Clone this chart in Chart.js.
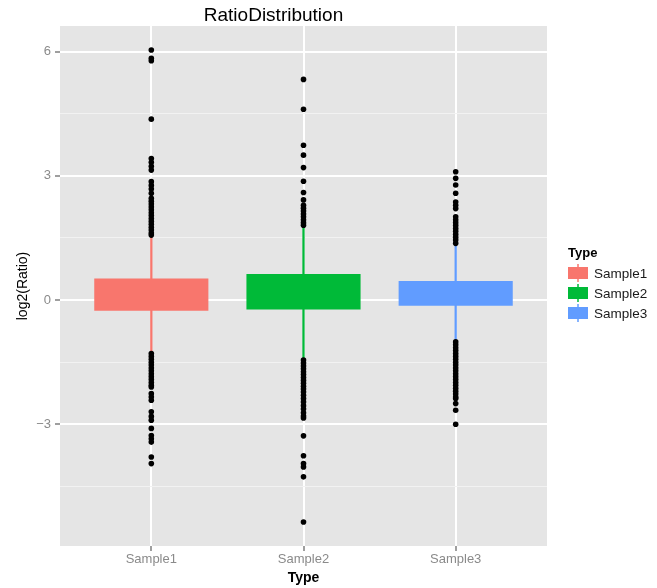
<!DOCTYPE html>
<html>
<head>
<meta charset="utf-8">
<title>RatioDistribution</title>
<script src="https://cdn.jsdelivr.net/npm/chart.js@4"></script>
<style>
  html, body { margin: 0; padding: 0; background: #fff; }
  #wrap { width: 657px; height: 588px; }
</style>
</head>
<body>
<div id="wrap"><canvas id="boxChart"></canvas></div>
<script>
// data
const types = ['Sample1', 'Sample2', 'Sample3'];
const colors = ['#F8766D', '#00BA38', '#619CFF'];

const q1 = [-0.26, -0.23, -0.14];
const q3 = [0.52, 0.63, 0.46];
const whiskerLow = [-1.25, -1.41, -0.97];
const whiskerHigh = [1.53, 1.77, 1.33];

const outliers1 = [6.04, 5.84, 5.78, 4.37, 3.42, 3.33, 3.23, 3.14, 2.86, 2.77, 2.68, 2.58,
  2.46, 2.39, 2.32, 2.25, 2.18, 2.11, 2.04, 1.97, 1.90, 1.83, 1.76, 1.69, 1.62, 1.57,
  -1.29, -1.36, -1.43, -1.50, -1.57, -1.64, -1.71, -1.78, -1.85, -1.92, -1.99, -2.06, -2.10,
  -2.26, -2.34, -2.42, -2.70, -2.81, -2.90, -3.10, -3.27, -3.35, -3.43, -3.79, -3.95];
const outliers2 = [5.33, 4.61, 3.74, 3.50, 3.20, 2.87, 2.60, 2.42, 2.29, 2.22, 2.15, 2.08,
  2.01, 1.94, 1.87, 1.81,
  -1.45, -1.52, -1.59, -1.66, -1.73, -1.80, -1.87, -1.94, -2.01, -2.08, -2.15, -2.22,
  -2.30, -2.38, -2.46, -2.55, -2.63, -2.72, -2.80, -2.85, -3.28, -3.76, -3.95, -4.03,
  -4.27, -5.36];
const outliers3 = [3.10, 2.94, 2.78, 2.58, 2.37, 2.29, 2.21, 2.01, 1.94, 1.87, 1.80, 1.73,
  1.66, 1.59, 1.52, 1.45, 1.37,
  -1.01, -1.08, -1.15, -1.22, -1.29, -1.36, -1.43, -1.50, -1.57, -1.64, -1.71, -1.78,
  -1.85, -1.92, -1.99, -2.06, -2.13, -2.20, -2.27, -2.34, -2.38, -2.50, -2.66, -3.00];

const yTicks = [-3, 0, 3, 6];
const yMinorTicks = [-4.5, -1.5, 1.5, 4.5];
const yRange = [-5.94, 6.62];

const FONT = '"Liberation Sans", Arial, sans-serif';

const outlierPoints = [];
[outliers1, outliers2, outliers3].forEach((list, i) => {
  list.forEach(v => outlierPoints.push({ x: i + 1, y: v }));
});

const isMajor = v => yTicks.includes(v);

// grey panel behind everything
const panelBg = {
  id: 'panelBg',
  beforeDraw(chart) {
    const { ctx, chartArea: a } = chart;
    ctx.save();
    ctx.fillStyle = '#E5E5E5';
    ctx.fillRect(a.left, a.top, a.width, a.height);
    ctx.restore();
  }
};

// ggplot style legend on the right
const typeLegend = {
  id: 'typeLegend',
  afterDraw(chart) {
    const { ctx, chartArea: a } = chart;
    const x0 = a.right + 21;
    const mid = (a.top + a.bottom) / 2;
    ctx.save();
    ctx.textBaseline = 'middle';
    ctx.fillStyle = '#000';
    ctx.font = 'bold 13px ' + FONT;
    ctx.fillText('Type', x0, mid - 33);
    ctx.font = '13.5px ' + FONT;
    types.forEach((t, i) => {
      const y = mid - 13 + i * 20;
      ctx.strokeStyle = colors[i];
      ctx.lineWidth = 1.5;
      ctx.beginPath();
      ctx.moveTo(x0 + 10, y - 9);
      ctx.lineTo(x0 + 10, y + 9);
      ctx.stroke();
      ctx.fillStyle = colors[i];
      ctx.fillRect(x0, y - 6, 20, 12);
      ctx.fillStyle = '#1A1A1A';
      ctx.fillText(t, x0 + 26, y + 1);
    });
    ctx.restore();
  }
};

new Chart(document.getElementById('boxChart'), {
  type: 'bar',
  data: {
    datasets: [
      {
        type: 'scatter',
        label: 'outliers',
        data: outlierPoints,
        pointRadius: 2.8,
        pointBackgroundColor: '#000',
        pointBorderWidth: 0,
        order: 0
      },
      {
        label: 'box',
        data: types.map((t, i) => ({ x: i + 1, y: [q1[i], q3[i]] })),
        backgroundColor: colors,
        borderWidth: 0,
        categoryPercentage: 1,
        barPercentage: 0.75,
        grouped: false,
        order: 1
      },
      {
        label: 'whisker',
        data: types.map((t, i) => ({ x: i + 1, y: [whiskerLow[i], whiskerHigh[i]] })),
        backgroundColor: colors,
        borderWidth: 0,
        barThickness: 1.6,
        grouped: false,
        order: 2
      }
    ]
  },
  options: {
    responsive: true,
    maintainAspectRatio: false,
    animation: false,
    layout: { padding: { top: 0, right: 110, bottom: 0, left: 0 } },
    plugins: {
      legend: { display: false },
      tooltip: { enabled: false },
      title: {
        display: true,
        text: 'RatioDistribution',
        color: '#000',
        font: { family: FONT, size: 19, weight: 'normal', lineHeight: 1 },
        padding: { top: 6, bottom: 1 }
      }
    },
    scales: {
      x: {
        type: 'linear',
        min: 0.4,
        max: 3.6,
        offset: false,
        afterBuildTicks: scale => { scale.ticks = types.map((t, i) => ({ value: i + 1 })); },
        afterFit: scale => { scale.height = 42; },
        border: { display: false },
        grid: {
          offset: false,
          color: '#FFFFFF',
          lineWidth: 2,
          tickColor: '#7F7F7F',
          tickLength: 5,
          tickWidth: 1.5
        },
        ticks: {
          padding: 1,
          color: '#8A8A8A',
          font: { family: FONT, size: 13 },
          callback: v => types[v - 1] || ''
        },
        title: {
          display: true,
          text: 'Type',
          color: '#000',
          font: { family: FONT, size: 14, weight: 'bold' },
          padding: { top: 0, bottom: 1 }
        }
      },
      y: {
        min: yRange[0],
        max: yRange[1],
        afterBuildTicks: scale => {
          scale.ticks = yMinorTicks.concat(yTicks).sort((a, b) => a - b).map(v => ({ value: v }));
        },
        afterFit: scale => { scale.width = 60; },
        border: { display: false },
        grid: {
          color: c => isMajor(c.tick.value) ? '#FFFFFF' : '#F2F2F2',
          lineWidth: c => isMajor(c.tick.value) ? 2 : 1,
          tickColor: c => isMajor(c.tick.value) ? '#7F7F7F' : 'rgba(0,0,0,0)',
          tickLength: 5,
          tickWidth: 1.5
        },
        ticks: {
          padding: 4,
          color: '#8A8A8A',
          font: { family: FONT, size: 13 },
          callback: v => isMajor(v) ? String(v).replace('-', '\u2212') : ''
        },
        title: {
          display: true,
          text: 'log2(Ratio)',
          color: '#000',
          font: { family: FONT, size: 14, weight: 'normal' },
          padding: { top: 15, bottom: 0 }
        }
      }
    }
  },
  plugins: [panelBg, typeLegend]
});
</script>
</body>
</html>
